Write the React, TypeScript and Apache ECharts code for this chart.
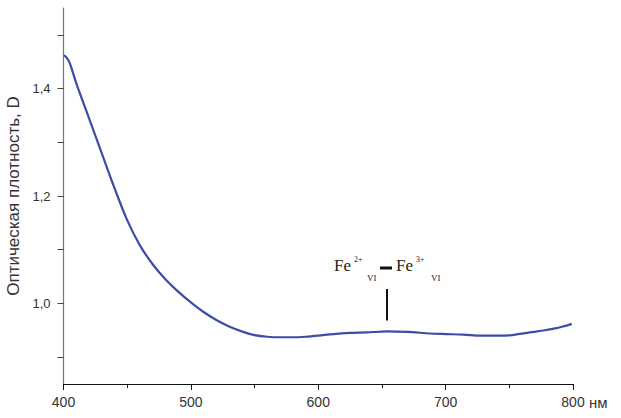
import React, { useEffect, useRef } from "react";
import * as echarts from "echarts";

const wavelengths = [400, 402, 405, 410, 420, 430, 440, 450, 460, 470, 480, 490, 500, 510, 520, 530, 541, 550, 560, 570, 580, 590, 600, 612, 625, 638, 654, 670, 688, 700, 714, 728, 740, 752, 766, 778, 785, 792, 799];
const density = [1.462, 1.459, 1.447, 1.410, 1.345, 1.280, 1.215, 1.155, 1.108, 1.073, 1.045, 1.022, 1.002, 0.984, 0.969, 0.957, 0.947, 0.941, 0.938, 0.937, 0.937, 0.938, 0.940, 0.943, 0.945, 0.946, 0.948, 0.947, 0.944, 0.943, 0.942, 0.940, 0.940, 0.941, 0.946, 0.950, 0.953, 0.957, 0.962];
const yLabelValues = [1.0, 1.2, 1.4];
const yTickValues = [0.9, 1.0, 1.1, 1.2, 1.3, 1.4, 1.5];
const markerX = 654;
const markerY = [0.968, 1.027];
const yAxisTitle = "Оптическая плотность, D";
const xUnit = "нм";

export default function App() {
  const ref = useRef<HTMLDivElement>(null);
  useEffect(() => {
    document.body.style.margin = "0";
    const chart = echarts.init(ref.current!, undefined, { renderer: "svg" });
    const serif = "'Liberation Serif', 'Times New Roman', serif";
    const sans = "'Liberation Sans', Arial, sans-serif";
    chart.setOption({
      animation: false,
      backgroundColor: "#ffffff",
      grid: { left: 63.5, right: 48, top: 8, bottom: 34, containLabel: false, outerBoundsMode: "none" },
      xAxis: {
        type: "value",
        min: 400,
        max: 800,
        interval: 100,
        axisLine: { lineStyle: { color: "#111", width: 1.2 } },
        axisTick: { length: 6, lineStyle: { color: "#111" } },
        minorTick: { show: true, splitNumber: 2, length: 4, lineStyle: { color: "#111" } },
        splitLine: { show: false },
        axisLabel: { color: "#333", fontSize: 14, fontFamily: sans, margin: 11 },
      },
      yAxis: {
        type: "value",
        min: 0.85,
        max: 1.55,
        axisLine: { show: true, lineStyle: { color: "#777", width: 1.2 } },
        axisTick: { show: true, length: 6, customValues: yTickValues, lineStyle: { color: "#444" } },
        axisLabel: {
          customValues: yLabelValues,
          color: "#333",
          fontSize: 13,
          fontFamily: sans,
          margin: 13,
          formatter: (v: number) => v.toFixed(1).replace(".", ","),
        },
        splitLine: { show: false },
        name: yAxisTitle,
        nameLocation: "middle",
        nameGap: 41,
        nameTextStyle: { fontSize: 17, color: "#333", fontFamily: sans },
      },
      series: [
        {
          type: "line",
          data: wavelengths.map((w, i) => [w, density[i]]),
          smooth: 0.3,
          showSymbol: false,
          lineStyle: { color: "#3d4ca6", width: 2.2 },
          markLine: {
            silent: true,
            symbol: "none",
            label: { show: false },
            lineStyle: { color: "#111", width: 2, type: "solid" },
            data: [[{ coord: [markerX, markerY[0]] }, { coord: [markerX, markerY[1]] }]],
          },
        },
      ],
      graphic: [
        { type: "text", x: 589, y: 402, style: { text: xUnit, fontSize: 15, fill: "#333", fontFamily: sans, verticalAlign: "middle" } },
        { type: "text", x: 334, y: 265, style: { text: "Fe", fontSize: 17, fill: "#222", fontFamily: serif, verticalAlign: "middle" } },
        { type: "text", x: 354, y: 259, style: { text: "2+", fontSize: 8, fill: "#222", fontFamily: serif, verticalAlign: "middle" } },
        { type: "text", x: 367, y: 278, style: { text: "VI", fontSize: 9, fill: "#222", fontFamily: serif, verticalAlign: "middle" } },
        { type: "line", shape: { x1: 380, y1: 268, x2: 392, y2: 268 }, style: { stroke: "#111", lineWidth: 3 } },
        { type: "text", x: 396, y: 265, style: { text: "Fe", fontSize: 17, fill: "#222", fontFamily: serif, verticalAlign: "middle" } },
        { type: "text", x: 416, y: 259, style: { text: "3+", fontSize: 8, fill: "#222", fontFamily: serif, verticalAlign: "middle" } },
        { type: "text", x: 431, y: 278, style: { text: "VI", fontSize: 9, fill: "#222", fontFamily: serif, verticalAlign: "middle" } },
      ],
    });
    return () => chart.dispose();
  }, []);
  return <div ref={ref} style={{ width: 621, height: 418 }} />;
}
